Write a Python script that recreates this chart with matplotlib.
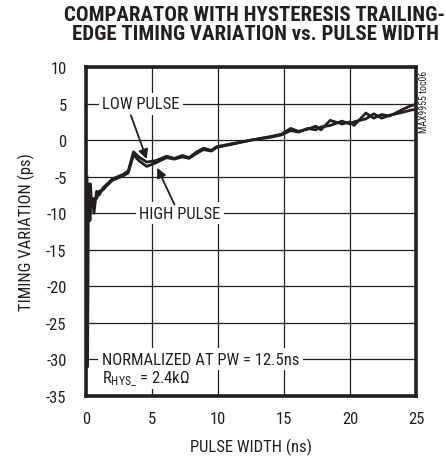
import matplotlib
matplotlib.use("Agg")
import matplotlib.pyplot as plt

FONT = ["Roboto Condensed", "DejaVu Sans"]
plt.rcParams['font.family'] = FONT
plt.rcParams['mathtext.fontset'] = 'custom'
plt.rcParams['mathtext.rm'] = 'Roboto Condensed'
plt.rcParams['mathtext.it'] = 'Roboto Condensed'
plt.rcParams['mathtext.bf'] = 'Roboto Condensed:bold'

pw = [0.08, 0.12, 0.16, 0.2, 0.25, 0.3, 0.35, 0.4, 0.5, 0.6, 0.8, 1.0, 1.3, 1.6, 2.0,
      2.4, 2.8, 3.2, 3.6, 4.0, 4.6, 5.3, 6.1, 6.7, 7.3, 7.8, 8.4, 8.9, 9.5, 9.9,
      11.0, 12.5, 14.0, 14.8, 15.5, 16.1, 16.8, 17.4, 17.8, 18.5, 19.4, 20.0, 20.3,
      21.2, 21.8, 22.4, 23.0, 24.0, 24.6, 25.0]
low_pulse = [-6, -31, -7, -11, -6, -10, -7, -9, -8, -10, -7, -7.5, -6.5, -6, -5.3,
             -5.0, -4.7, -4.2, -1.6, -2.3, -3.0, -2.8, -2.2, -2.5, -2.1, -2.4, -1.6, -1.1, -1.4, -0.9,
             -0.5, 0.0, 0.5, 0.8, 1.6, 1.2, 1.5, 1.9, 1.4, 2.7, 2.2, 2.5, 2.0,
             3.7, 3.0, 3.5, 3.3, 4.2, 4.7, 4.9]
high_pulse = [-5, -30, -8, -10, -7, -11, -6, -9, -9, -8, -8, -7, -6.8, -6.2, -5.5,
              -5.2, -4.9, -4.5, -2.0, -2.8, -3.6, -3.1, -2.4, -2.6, -2.3, -2.5, -1.8, -1.3, -1.5, -1.0,
              -0.6, 0.0, 0.4, 0.7, 1.3, 1.1, 1.6, 1.4, 1.8, 2.0, 2.6, 2.2, 2.5,
              2.9, 3.6, 3.0, 3.4, 3.8, 4.1, 4.2]

x_ticks = [0, 5, 10, 15, 20, 25]
y_ticks = [-35, -30, -25, -20, -15, -10, -5, 0, 5, 10]

INK = '#231f20'
FS = 12

fig = plt.figure(figsize=(4.46, 4.60), dpi=100)
ax = fig.add_axes([86/446, 63/460, 330/446, 329/460])

ax.plot(pw, low_pulse, color=INK, lw=2.0, solid_joinstyle='round', zorder=3)
ax.plot(pw, high_pulse, color=INK, lw=2.0, solid_joinstyle='round', zorder=3)

ax.set_xlim(0, 25)
ax.set_ylim(-35, 10)
ax.set_xticks(x_ticks)
ax.set_yticks(y_ticks)
ax.set_yticklabels([str(v) for v in y_ticks])
ax.grid(True, color=INK, lw=0.9)
ax.set_axisbelow(True)
ax.tick_params(axis='y', length=0, labelsize=FS, pad=14, colors=INK)
ax.tick_params(axis='x', length=0, labelsize=FS, pad=11, colors=INK)
for s in ax.spines.values():
    s.set_linewidth(2.6)
    s.set_color(INK)

ax.set_xlabel('PULSE WIDTH (ns)', fontsize=FS, color=INK, labelpad=8)
ax.set_ylabel('TIMING VARIATION (ps)', fontsize=FS, color=INK, labelpad=8)

bb = dict(facecolor='white', edgecolor='none', pad=2.5)
ax.text(4.15, 5, 'LOW PULSE', ha='center', va='center', fontsize=FS, color=INK, bbox=bb, zorder=2)
ax.text(7.1, -10, 'HIGH PULSE', ha='center', va='center', fontsize=FS, color=INK, bbox=bb, zorder=2)
ax.text(1.2, -30, 'NORMALIZED AT PW = 12.5ns', ha='left', va='center', fontsize=FS, color=INK, bbox=bb, zorder=2)
ax.text(1.2, -32.6, r'R$_{\mathrm{HYS\_}}$ = 2.4k$\Omega$', ha='left', va='center', fontsize=FS, color=INK,
        bbox=dict(facecolor='white', edgecolor='none', pad=1.0), zorder=2)

ap = dict(arrowstyle='-|>', color=INK, lw=1.3, mutation_scale=14, shrinkA=0, shrinkB=0)
ax.annotate('', xy=(4.6, -2.6), xytext=(3.4, 3.4), arrowprops=ap, zorder=4)
ax.annotate('', xy=(5.4, -3.8), xytext=(6.7, -8.8), arrowprops=ap, zorder=4)

fig.text(0.94, 0.845, 'MAX9955 toc06', rotation=90, ha='left', va='top', fontsize=7, color=INK)

fig.text(255/446, 1 - 6/460, 'COMPARATOR WITH HYSTERESIS TRAILING-\nEDGE TIMING VARIATION vs. PULSE WIDTH',
         ha='center', va='top', fontsize=15, fontweight='black', color=INK, linespacing=1.0)

fig.savefig('out.png', dpi=100)
